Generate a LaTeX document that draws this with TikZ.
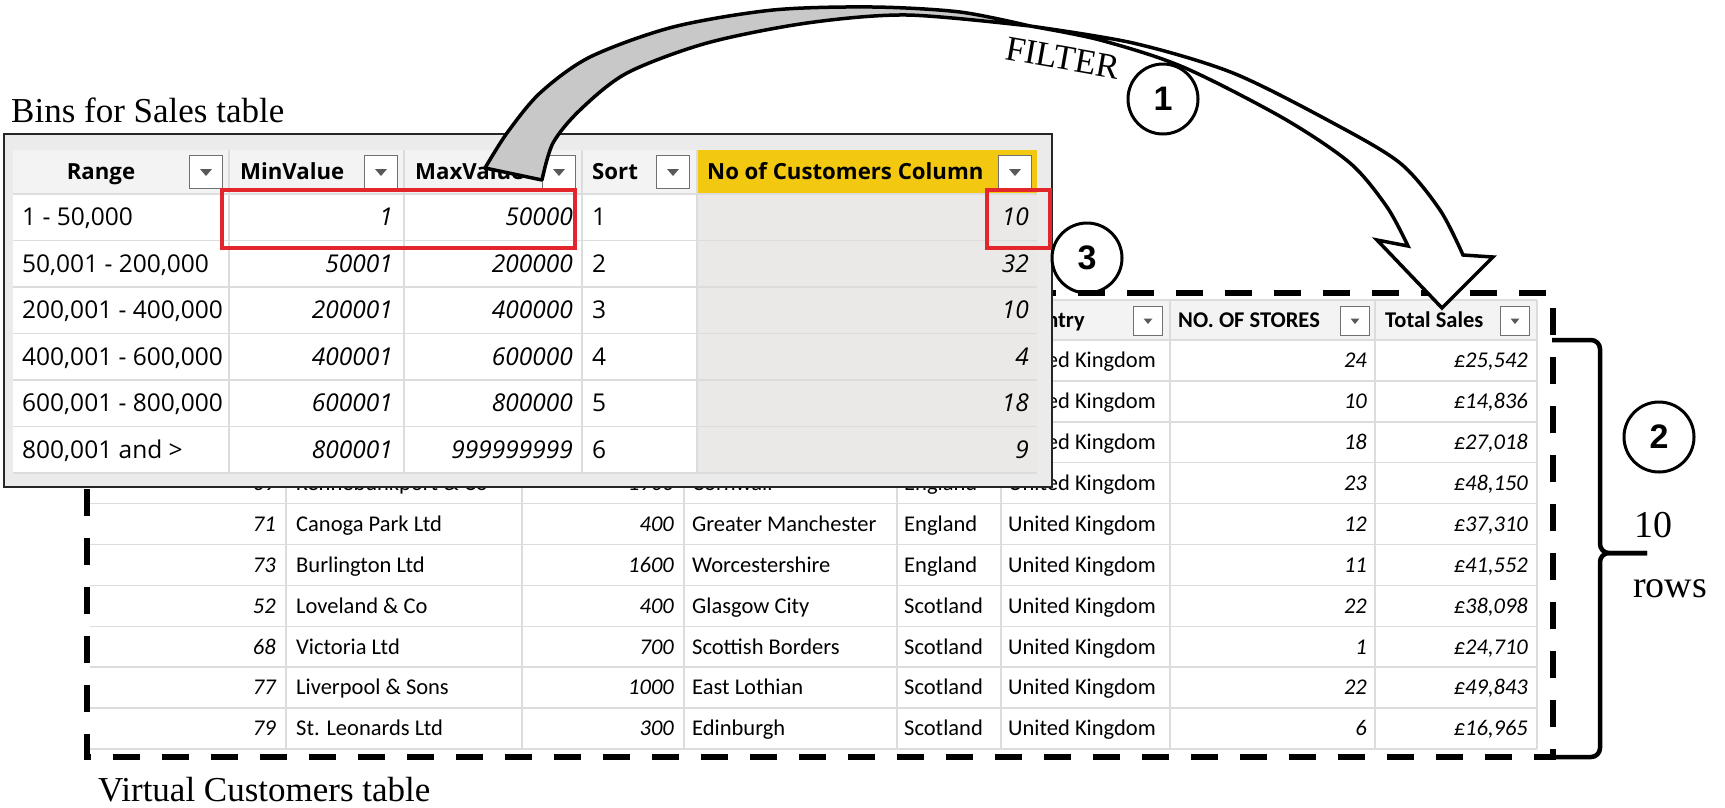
\documentclass[tikz,border=0pt]{standalone}
\usepackage{fontspec}
\setmainfont{Liberation Serif}
\newfontfamily\binsfont{Open Sans}
\newfontfamily\custfont{Carlito}
\newfontfamily\markfont{Liberation Sans}

\definecolor{pbiyellow}{HTML}{F2C811}
\definecolor{gridgray}{HTML}{DCDCDC}
\definecolor{headgray}{HTML}{F3F3F3}
\definecolor{padgray}{HTML}{EBEBEB}
\definecolor{colgray}{HTML}{EAE9E8}
\definecolor{btnline}{HTML}{707070}
\definecolor{markred}{HTML}{E2262B}
\definecolor{ribbongray}{HTML}{C8C8C8}

\begin{document}
\begin{tikzpicture}[
    x=1pt, y=-1pt,
    bins/.style={font=\binsfont\fontsize{24.5}{28}\selectfont, inner sep=0pt, text height=20pt, text depth=2.6pt},
    binshead/.style={bins, font=\binsfont\bfseries\fontsize{22.2}{26}\selectfont, text height=18.5pt},
    cust/.style={font=\custfont\fontsize{22.5}{26}\selectfont, inner sep=0pt, text height=17pt, text depth=2.5pt},
    custhead/.style={cust, font=\custfont\bfseries\fontsize{22.5}{26}\selectfont},
    ddbtn/.style={draw=btnline, fill=white, line width=1.3pt, minimum size=33pt, inner sep=0pt,
        path picture={\fill[black!65] ([xshift=-6pt,yshift=3pt]path picture bounding box.center) -- ++(12pt,0pt) -- ++(-6pt,-7pt) -- cycle;}},
    ddsmall/.style={draw=btnline, fill=white, line width=1.3pt, minimum size=29pt, inner sep=0pt,
        path picture={\fill[black!65] ([xshift=-4.5pt,yshift=2.5pt]path picture bounding box.center) -- ++(9pt,0pt) -- ++(-4.5pt,-5.5pt) -- cycle;}},
    redbox/.style={draw=markred, line width=4pt},
    marker/.style={circle, draw, line width=3pt, minimum size=70pt, inner sep=0pt, font=\markfont\bfseries\fontsize{34}{38}\selectfont},
    caption/.style={font=\fontsize{35}{40}\selectfont, inner sep=0pt, anchor=base west},
    bracepen/.style={line width=4.5pt, rounded corners=9pt}
]

\fill[white] (0,0) rectangle (1725,807);
\useasboundingbox (0,0) rectangle (1725,807);

% Virtual Customers table (drawn first, the bins table lies over it)
\fill[headgray] (90,300) rectangle (1537,340);
\foreach \k in {0,...,10}
  \draw[gridgray, line width=1.5pt] (90,{340+\k*40.9}) -- (1537,{340+\k*40.9});
\draw[gridgray, line width=1.5pt] (90,300) -- (1537,300);
\foreach \xx in {286,522,684,897,1001,1170,1375,1537}
  \draw[gridgray, line width=1.5pt] (\xx,300) -- (\xx,749);

\node[custhead, anchor=west] (hCountry) at (1010,320) {Country};
\node[ddsmall] (bCountry) at (1148,321) {};
\node[custhead, anchor=west] (hStores) at (1178,320) {NO. OF STORES};
\node[ddsmall] (bStores) at (1355,321) {};
\node[custhead, anchor=west] (hSales) at (1385,320) {Total Sales};
\node[ddsmall] (bSales) at (1515,321) {};

\foreach \r/\stores/\sales in {1/24/{£25,542}, 2/10/{£14,836}, 3/18/{£27,018}, 4/23/{£48,150}, 5/12/{£37,310}, 6/11/{£41,552}, 7/22/{£38,098}, 8/1/{£24,710}, 9/22/{£49,843}, 10/6/{£16,965}} {
  \pgfmathsetmacro{\yc}{360.45+(\r-1)*40.9}
  \node[cust, anchor=west] (ctry\r) at (1008,\yc) {United Kingdom};
  \node[cust, anchor=east] (stores\r) at (1367,\yc) {\itshape\stores};
  \node[cust, anchor=east] (sales\r) at (1528,\yc) {\itshape\sales};
}
\foreach \r/\id/\nm/\num/\reg/\st in {4/69/Kennebunkport \& Co/1900/Cornwall/England, 5/71/Canoga Park Ltd/400/Greater Manchester/England, 6/73/Burlington Ltd/1600/Worcestershire/England, 7/52/Loveland \& Co/400/Glasgow City/Scotland, 8/68/Victoria Ltd/700/Scottish Borders/Scotland, 9/77/Liverpool \& Sons/1000/East Lothian/Scotland, 10/79/St. Leonards Ltd/300/Edinburgh/Scotland} {
  \pgfmathsetmacro{\yc}{360.45+(\r-1)*40.9}
  \node[cust, anchor=east] (id\r) at (276,\yc) {\itshape\id};
  \node[cust, anchor=west] (name\r) at (296,\yc) {\nm};
  \node[cust, anchor=east] (num\r) at (674,\yc) {\itshape\num};
  \node[cust, anchor=west] (reg\r) at (692,\yc) {\reg};
  \node[cust, anchor=west] (state\r) at (904,\yc) {\st};
}

\draw[line width=6.5pt, dash pattern=on 27pt off 22pt] (87,293) rectangle (1553,757);
\node[caption] (custlbl) at (98,801) {Virtual Customers table};

% Bins for Sales table
\node[caption] (binslbl) at (11,122) {Bins for Sales table};
\draw[black!85, line width=2pt, fill=padgray] (4,134) rectangle (1052,487);
\fill[headgray] (13,150) rectangle (697,194);
\fill[pbiyellow] (697,150) rectangle (1037,194);
\fill[white] (13,194) rectangle (697,473);
\fill[colgray] (697,194) rectangle (1037,473);
\foreach \yy in {194,240.5,287,333.5,380,426.5,473}
  \draw[gridgray, line width=1.5pt] (13,\yy) -- (1037,\yy);
\foreach \xx in {229,404,582,697}
  \draw[gridgray, line width=1.5pt] (\xx,150) -- (\xx,473);

\node[binshead] (hRange) at (101,172) {Range};
\node[ddbtn] (bRange) at (206,172) {};
\node[binshead, anchor=west] (hMin) at (240,172) {MinValue};
\node[ddbtn] (bMin) at (381,172) {};
\node[binshead, anchor=west] (hMax) at (415,172) {MaxValue};
\node[ddbtn] (bMax) at (559,172) {};
\node[binshead, anchor=west] (hSort) at (592,172) {Sort};
\node[ddbtn] (bSort) at (673,172) {};
\node[binshead, anchor=west] (hCust) at (707,172) {No of Customers Column};
\node[ddbtn] (bCust) at (1015,172) {};

\foreach \r/\rng/\mn/\mx/\cnt in {1/{1 - 50,000}/1/50000/10, 2/{50,001 - 200,000}/50001/200000/32, 3/{200,001 - 400,000}/200001/400000/10, 4/{400,001 - 600,000}/400001/600000/4, 5/{600,001 - 800,000}/600001/800000/18, 6/{800,001 and >}/800001/999999999/9} {
  \pgfmathsetmacro{\yc}{170.75+\r*46.5}
  \node[bins, anchor=west] (rng\r) at (22,\yc) {\rng};
  \node[bins, anchor=east] (min\r) at (393,\yc) {\itshape\mn};
  \node[bins, anchor=east] (max\r) at (573,\yc) {\itshape\mx};
  \node[bins, anchor=west] (sort\r) at (592,\yc) {\r};
  \node[bins, anchor=east] (cnt\r) at (1029,\yc) {\itshape\cnt};
}

% highlighted cells
\draw[redbox] (222,190) rectangle (575,248);
\draw[redbox] (987,190) rectangle (1050,248);

% FILTER ribbon arrow: grey back side
\filldraw[fill=ribbongray, line width=3.5pt, line join=round]
  (485,168) -- (542,180)
  -- plot[smooth] coordinates {(542,180) (553,143) (580,110) (627,73) (707,43) (807,23) (907,15) (1030,26)}
  -- plot[smooth] coordinates {(1030,26) (960,12) (873,7) (773,10) (673,27) (590,57) (540,93) (507,133) (485,168)}
  -- cycle;
% white front side with head
\filldraw[fill=white, line width=3.5pt, line join=miter]
  plot[smooth] coordinates {(1030,26) (1133,43) (1233,73) (1333,123) (1400,163) (1440,210) (1463,255)}
  -- (1493,257) -- (1442,308) -- (1377,240) -- (1408,246)
  -- plot[smooth] coordinates {(1408,246) (1387,207) (1350,163) (1283,118) (1183,67) (1100,40) (1030,26)}
  -- cycle;
\node[font=\fontsize{35}{40}\selectfont, rotate=-10, inner sep=0pt] (filter) at (1063,58) {FILTER};

% step markers
\node[marker] (m1) at (1163,99) {1};
\node[marker] (m3) at (1087,258) {3};
\node[marker] (m2) at (1659,437) {2};

% brace for the rows
\coordinate (brTop) at (1552,340);
\coordinate (brTip) at (1647,553);
\coordinate (brBot) at (1552,757);
\draw[bracepen] (brTop) -- (1600,340) -- (1600,553) -- (brTip);
\draw[bracepen] (brTip) -- (1600,553) -- (1600,757) -- (brBot);
\node[font=\fontsize{38}{42}\selectfont, inner sep=0pt, anchor=base west] (ten) at (1634,537) {10};
\node[font=\fontsize{38}{42}\selectfont, inner sep=0pt, anchor=base west] (rows) at (1633,597) {rows};

\end{tikzpicture}
\end{document}
